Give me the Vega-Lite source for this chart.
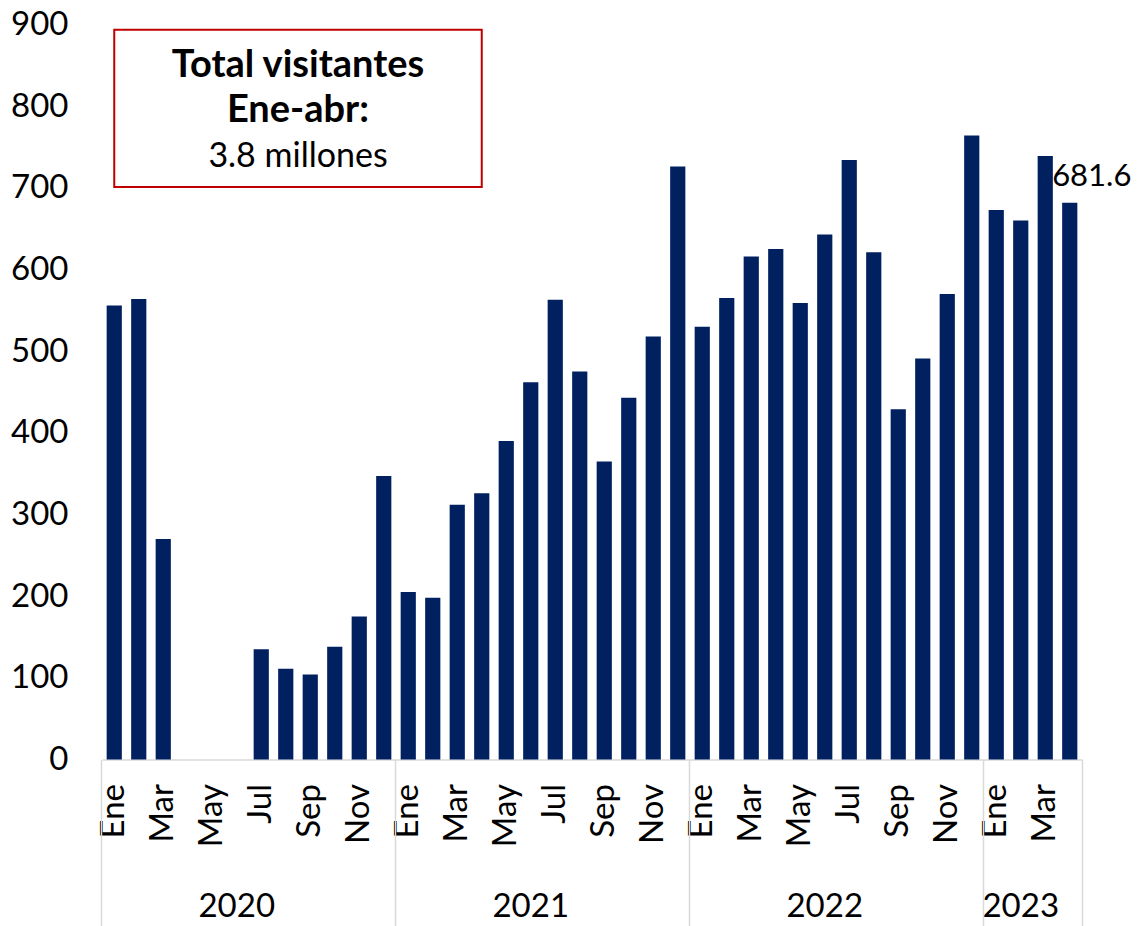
{
  "$schema": "https://vega.github.io/schema/vega-lite/v6.json",
  "width": 980,
  "height": 735,
  "autosize": {"type": "none"},
  "padding": {"left": 102, "top": 24.5, "right": 58, "bottom": 166.5},
  "background": "white",
  "config": {"view": {"stroke": null}, "font": "Lato", "axis": {"grid": false}},
  "data": {"name": "visitantes"},
  "datasets": {
    "visitantes": [
      {"fecha": "2020-01", "valor": 556}, {"fecha": "2020-02", "valor": 564}, {"fecha": "2020-03", "valor": 270},
      {"fecha": "2020-04", "valor": 0}, {"fecha": "2020-05", "valor": 0}, {"fecha": "2020-06", "valor": 0},
      {"fecha": "2020-07", "valor": 135}, {"fecha": "2020-08", "valor": 111}, {"fecha": "2020-09", "valor": 104},
      {"fecha": "2020-10", "valor": 138}, {"fecha": "2020-11", "valor": 175}, {"fecha": "2020-12", "valor": 347},
      {"fecha": "2021-01", "valor": 205}, {"fecha": "2021-02", "valor": 198}, {"fecha": "2021-03", "valor": 312},
      {"fecha": "2021-04", "valor": 326}, {"fecha": "2021-05", "valor": 390}, {"fecha": "2021-06", "valor": 462},
      {"fecha": "2021-07", "valor": 563}, {"fecha": "2021-08", "valor": 475}, {"fecha": "2021-09", "valor": 365},
      {"fecha": "2021-10", "valor": 443}, {"fecha": "2021-11", "valor": 518}, {"fecha": "2021-12", "valor": 726},
      {"fecha": "2022-01", "valor": 530}, {"fecha": "2022-02", "valor": 565}, {"fecha": "2022-03", "valor": 616},
      {"fecha": "2022-04", "valor": 625}, {"fecha": "2022-05", "valor": 559}, {"fecha": "2022-06", "valor": 643},
      {"fecha": "2022-07", "valor": 734}, {"fecha": "2022-08", "valor": 621}, {"fecha": "2022-09", "valor": 429},
      {"fecha": "2022-10", "valor": 491}, {"fecha": "2022-11", "valor": 570}, {"fecha": "2022-12", "valor": 764},
      {"fecha": "2023-01", "valor": 673}, {"fecha": "2023-02", "valor": 660}, {"fecha": "2023-03", "valor": 739},
      {"fecha": "2023-04", "valor": 681.6}
    ]
  },
  "layer": [
    {
      "mark": {"type": "bar", "color": "#002060"},
      "encoding": {
        "x": {
          "field": "fecha", "type": "ordinal",
          "scale": {"paddingInner": 0.38, "paddingOuter": 0.19},
          "axis": {
            "orient": "bottom", "title": null,
            "values": ["2020-01","2020-03","2020-05","2020-07","2020-09","2020-11","2021-01","2021-03","2021-05","2021-07","2021-09","2021-11","2022-01","2022-03","2022-05","2022-07","2022-09","2022-11","2023-01","2023-03"],
            "labelExpr": "['Ene','Feb','Mar','Abr','May','Jun','Jul','Ago','Sep','Oct','Nov','Dic'][toNumber(slice(datum.value,5,7))-1]",
            "labelAngle": -90, "labelFontSize": 33, "labelColor": "#000000", "labelPadding": 24,
            "labelOverlap": false, "ticks": false, "domainColor": "#d9d9d9", "domainWidth": 1.5
          }
        },
        "y": {
          "field": "valor", "type": "quantitative",
          "scale": {"domain": [0, 900]},
          "axis": {
            "orient": "left", "title": null, "values": [0,100,200,300,400,500,600,700,800,900],
            "ticks": false, "domain": false, "grid": false,
            "labelFontSize": 33, "labelColor": "#000000", "labelPadding": 34
          }
        }
      }
    },
    {
      "mark": {"type": "bar", "opacity": 0},
      "encoding": {
        "x": {
          "field": "fecha", "type": "ordinal",
          "axis": {
            "orient": "bottom", "title": null,
            "values": ["2020-06","2021-06","2022-06","2023-02"],
            "bandPosition": 1.306452,
            "labelExpr": "slice(datum.value,0,4)",
            "labelAngle": 0, "labelAlign": "center", "labelBaseline": "top",
            "labelFontSize": 33, "labelColor": "#000000", "labelPadding": 131,
            "labelOverlap": false, "ticks": false, "domain": false
          }
        }
      }
    },
    {
      "mark": {"type": "bar", "opacity": 0},
      "encoding": {
        "x": {
          "field": "fecha", "type": "ordinal",
          "axis": {
            "orient": "bottom", "title": null,
            "values": ["2020-01","2021-01","2022-01","2023-01"],
            "bandPosition": -0.306452,
            "labels": false, "domain": false, "ticks": true,
            "tickSize": 166, "tickColor": "#d9d9d9", "tickWidth": 1.5
          }
        }
      }
    },
    {
      "mark": {"type": "bar", "opacity": 0},
      "encoding": {
        "x": {
          "field": "fecha", "type": "ordinal",
          "axis": {
            "orient": "bottom", "title": null,
            "values": ["2023-04"],
            "bandPosition": 1.306452,
            "labels": false, "domain": false, "ticks": true,
            "tickSize": 166, "tickColor": "#d9d9d9", "tickWidth": 1.5
          }
        }
      }
    },
    {
      "transform": [{"filter": "datum.fecha == '2023-04'"}],
      "mark": {"type": "text", "fontSize": 31, "color": "#000000", "baseline": "alphabetic", "align": "center", "dx": 22, "dy": -17},
      "encoding": {
        "x": {"field": "fecha", "type": "ordinal", "axis": null},
        "y": {"field": "valor", "type": "quantitative", "axis": null},
        "text": {"field": "valor", "type": "quantitative", "format": ".1f"}
      }
    },
    {
      "data": {"values": [{}]},
      "mark": {"type": "rect", "fill": "white", "stroke": "#c00000", "strokeWidth": 2},
      "encoding": {
        "x": {"datum": "2020-01", "type": "ordinal", "axis": null},
        "x2": {"datum": "2021-04"},
        "y": {"datum": 893.6, "type": "quantitative", "axis": null},
        "y2": {"datum": 700.9}
      }
    },
    {
      "data": {"values": [{"texto": "Total visitantes"}]},
      "mark": {"type": "text", "fontSize": 38, "fontWeight": "bold", "color": "#000000", "baseline": "alphabetic", "align": "center"},
      "encoding": {
        "x": {"datum": "2020-09", "type": "ordinal", "bandPosition": -0.306452, "axis": null},
        "y": {"datum": 835.5, "type": "quantitative", "axis": null},
        "text": {"field": "texto"}
      }
    },
    {
      "data": {"values": [{"texto": "Ene-abr:"}]},
      "mark": {"type": "text", "fontSize": 38, "fontWeight": "bold", "color": "#000000", "baseline": "alphabetic", "align": "center"},
      "encoding": {
        "x": {"datum": "2020-09", "type": "ordinal", "bandPosition": -0.306452, "axis": null},
        "y": {"datum": 780.5, "type": "quantitative", "axis": null},
        "text": {"field": "texto"}
      }
    },
    {
      "data": {"values": [{"texto": "3.8 millones"}]},
      "mark": {"type": "text", "fontSize": 34, "color": "#000000", "baseline": "alphabetic", "align": "center"},
      "encoding": {
        "x": {"datum": "2020-09", "type": "ordinal", "bandPosition": -0.306452, "axis": null},
        "y": {"datum": 725.4, "type": "quantitative", "axis": null},
        "text": {"field": "texto"}
      }
    }
  ],
  "resolve": {"axis": {"x": "independent", "y": "independent"}}
}
